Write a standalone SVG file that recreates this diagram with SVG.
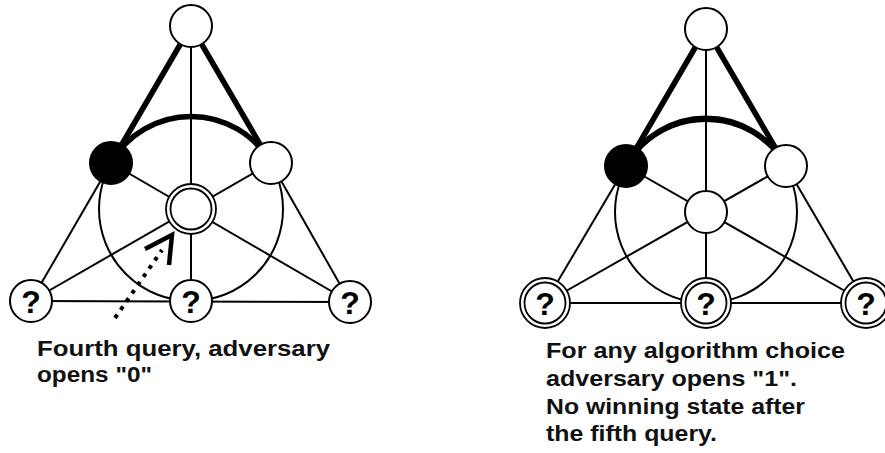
<svg xmlns="http://www.w3.org/2000/svg" width="885" height="453" viewBox="0 0 885 453">
  <style>
    .thin { stroke: #000; stroke-width: 2; fill: none; }
    .thick { stroke: #000; stroke-width: 5.5; fill: none; stroke-linecap: round; }
    .node { stroke: #000; stroke-width: 2; fill: #fff; }
    .filled { stroke: #000; stroke-width: 2; fill: #000; }
    .ring { stroke: #000; stroke-width: 1.8; fill: #fff; }
    .q { font-family: "Liberation Sans", Arial, sans-serif; font-weight: bold; font-size: 32px; text-anchor: middle; fill: #000; }
    .cap { font-family: "Liberation Sans", Arial, sans-serif; font-weight: bold; font-size: 22px; fill: #111; }
  </style>
  <rect width="885" height="453" fill="#fff"/>

  <!-- Left Fano plane: connectors -->
  <g id="left-connectors">
    <circle class="thin" cx="191" cy="209" r="92"/>
    <line class="thin" x1="191" y1="26" x2="191" y2="301"/>
    <line class="thin" x1="111" y1="163" x2="31" y2="301"/>
    <line class="thin" x1="271" y1="163" x2="350" y2="302"/>
    <line class="thin" x1="31" y1="301" x2="350" y2="302"/>
    <line class="thin" x1="111" y1="163" x2="350" y2="302"/>
    <line class="thin" x1="271" y1="163" x2="31" y2="301"/>
    <line class="thick" x1="191" y1="26" x2="111" y2="163"/>
    <line class="thick" x1="191" y1="26" x2="271" y2="163"/>
    <path class="thick" d="M111,163 A92,92 0 0 1 271,163"/>
  </g>
  <g id="left-top"><circle class="node" cx="191" cy="26" r="21"/></g>
  <g id="left-ml"><circle class="filled" cx="111" cy="163" r="21"/></g>
  <g id="left-mr"><circle class="node" cx="271" cy="163" r="21"/></g>
  <g id="left-center">
    <circle class="ring" cx="191" cy="209" r="25"/>
    <circle class="ring" cx="191" cy="209" r="20.5"/>
  </g>
  <g id="left-bl"><circle class="node" cx="31" cy="301" r="21"/><text class="q" x="31" y="313">?</text></g>
  <g id="left-bm"><circle class="node" cx="191" cy="301" r="21"/><text class="q" x="191" y="313">?</text></g>
  <g id="left-br"><circle class="node" cx="350" cy="302" r="21"/><text class="q" x="350" y="314">?</text></g>

  <!-- dotted pointer to the queried node -->
  <g id="pointer">
    <line x1="115" y1="318" x2="162" y2="250" stroke="#000" stroke-width="4" stroke-dasharray="4 6"/>
    <polyline points="145,249 172,235 169,265" fill="none" stroke="#000" stroke-width="4.5" stroke-linejoin="miter"/>
  </g>

  <g id="left-caption">
    <text class="cap" x="37" y="356" textLength="293" lengthAdjust="spacingAndGlyphs">Fourth query, adversary</text>
    <text class="cap" x="37" y="382" textLength="115" lengthAdjust="spacingAndGlyphs">opens "0"</text>
  </g>

  <!-- Right Fano plane: connectors -->
  <g id="right-connectors">
    <circle class="thin" cx="706" cy="212" r="91"/>
    <line class="thin" x1="706" y1="29" x2="706" y2="303"/>
    <line class="thin" x1="626" y1="166" x2="545" y2="303"/>
    <line class="thin" x1="786" y1="166" x2="866" y2="303"/>
    <line class="thin" x1="545" y1="303" x2="866" y2="303"/>
    <line class="thin" x1="626" y1="166" x2="866" y2="303"/>
    <line class="thin" x1="786" y1="166" x2="545" y2="303"/>
    <line class="thick" x1="706" y1="29" x2="626" y2="166"/>
    <line class="thick" x1="706" y1="29" x2="786" y2="166"/>
    <path class="thick" d="M626,166 A91,91 0 0 1 786,166"/>
  </g>
  <g id="right-top"><circle class="node" cx="706" cy="29" r="21"/></g>
  <g id="right-ml"><circle class="filled" cx="626" cy="166" r="21"/></g>
  <g id="right-mr"><circle class="node" cx="786" cy="166" r="21"/></g>
  <g id="right-center"><circle class="node" cx="706" cy="212" r="21"/></g>
  <g id="right-bl">
    <circle class="ring" cx="545" cy="303" r="25"/>
    <circle class="ring" cx="545" cy="303" r="20.5"/>
    <text class="q" x="545" y="315">?</text>
  </g>
  <g id="right-bm">
    <circle class="ring" cx="706" cy="303" r="25"/>
    <circle class="ring" cx="706" cy="303" r="20.5"/>
    <text class="q" x="706" y="315">?</text>
  </g>
  <g id="right-br">
    <circle class="ring" cx="866" cy="303" r="25"/>
    <circle class="ring" cx="866" cy="303" r="20.5"/>
    <text class="q" x="866" y="315">?</text>
  </g>

  <g id="right-caption">
    <text class="cap" x="546" y="358" textLength="299" lengthAdjust="spacingAndGlyphs">For any algorithm choice</text>
    <text class="cap" x="546" y="386" textLength="251" lengthAdjust="spacingAndGlyphs">adversary opens "1".</text>
    <text class="cap" x="546" y="414" textLength="259" lengthAdjust="spacingAndGlyphs">No winning state after</text>
    <text class="cap" x="546" y="441" textLength="171" lengthAdjust="spacingAndGlyphs">the fifth query.</text>
  </g>
</svg>
